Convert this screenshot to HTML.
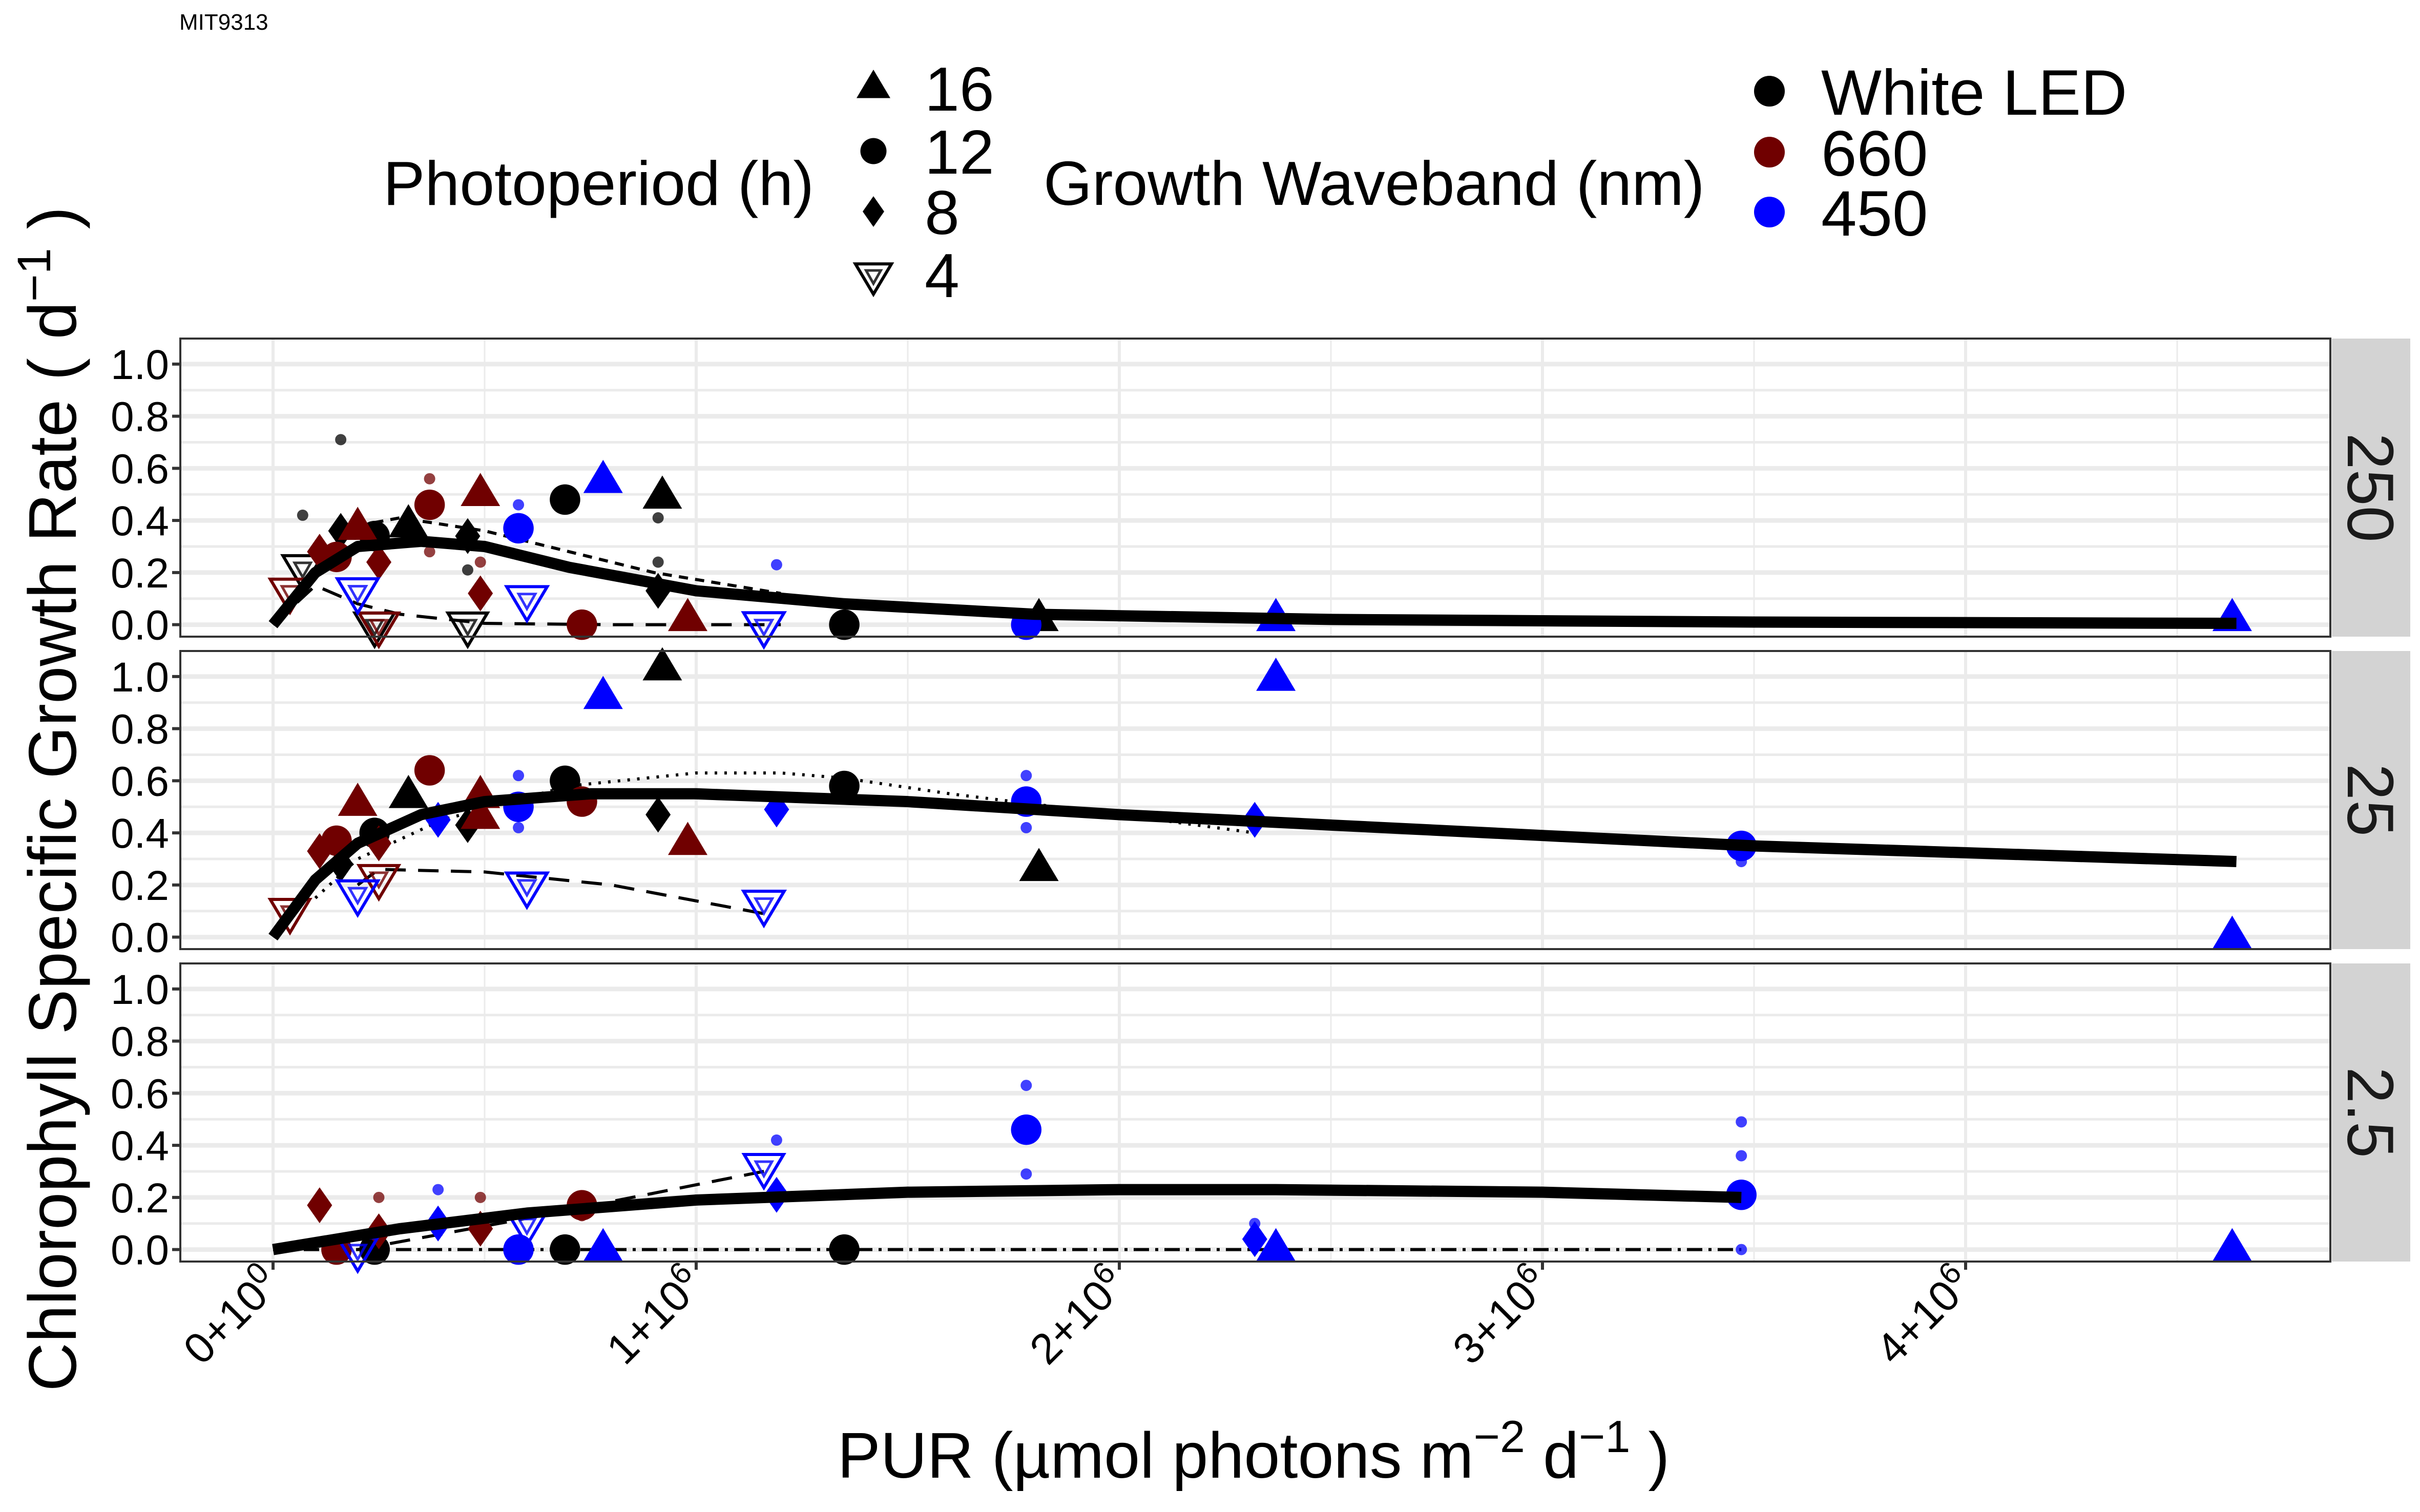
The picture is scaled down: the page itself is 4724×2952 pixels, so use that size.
<!DOCTYPE html>
<html><head><meta charset="utf-8">
<style>
html,body{margin:0;padding:0;background:#fff;}
svg{display:block;font-family:"Liberation Sans",sans-serif;}
</style></head>
<body>
<svg id="chart" width="4724" height="2952" viewBox="0 0 4724 2952" xmlns="http://www.w3.org/2000/svg">
<rect width="4724" height="2952" fill="#fff"/>
<text x="350" y="58" font-size="44">MIT9313</text>
<g id="legend">
  <text x="748" y="400" font-size="122">Photoperiod (h)</text>
  <text x="2037" y="400" font-size="122">Growth Waveband (nm)</text>
</g>
<g id="panels"></g>
<text transform="translate(148,1560) rotate(-90)" text-anchor="middle" font-size="132">Chlorophyll Specific Growth Rate   ( d<tspan dy="-50" font-size="92">−1</tspan><tspan dy="50"> )</tspan></text>
<text x="2447" y="2885" text-anchor="middle" font-size="126">PUR (µmol photons m<tspan dy="-50" font-size="88">−2</tspan><tspan dy="50"> d</tspan><tspan dy="-50" font-size="88">−1</tspan><tspan dy="50"> )</tspan></text>
</svg>
<script>
// ---- data ----
const panelNames = ["250","25","2.5"];
const xTickValues = [0,1,2,3,4];
const xTickMant = ["0","1","2","3","4"];
const xTickExp = ["0","6","6","6","6"];
const yTickValues = [0,0.2,0.4,0.6,0.8,1.0];
const yTickLabels = ["0.0","0.2","0.4","0.6","0.8","1.0"];
const photoLabels = ["16","12","8","4"];
const waveLabels = ["White LED","660","450"];
const waveColors = ["#000000","#700000","#0000ff"];
// points: [panel, x(1e6), y, shapeIndex, colorIndex]
const pointsPanel = [0,0,0,0,0,0,0,0,0,0,0,0,0,0,0,0,0,0,0,0,0,0,0,0,0,0,0,0,
 1,1,1,1,1,1,1,1,1,1,1,1,1,1,1,1,1,1,1,1,1,1,1,1,1,1,1,1,1,
 2,2,2,2,2,2,2,2,2,2,2,2,2,2,2,2,2,2,2,2];
const pointsX = [0.32,0.92,1.81,0.24,0.69,1.35,0.16,0.46,0.91,0.07,0.24,0.46,0.20,0.49,0.98,0.37,0.73,0.15,0.11,0.25,0.49,0.04,0.25,0.78,2.37,4.63,0.58,1.78,
 0.32,0.92,1.81,0.24,0.69,1.35,0.16,0.46,0.91,0.20,0.49,0.49,0.98,0.15,0.37,0.73,0.11,0.25,0.04,0.25,0.78,2.37,4.63,0.58,1.78,3.47,0.39,1.19,2.32,
 0.24,0.69,1.35,0.11,0.25,0.49,0.15,0.73,0.39,1.19,2.32,0.58,1.78,3.47,0.78,2.37,4.63,0.20,0.60,1.16];
const pointsY = [0.38,0.49,0.02,0.34,0.48,0.0,0.36,0.34,0.13,0.22,0.0,0.0,0.37,0.50,0.02,0.46,0.0,0.26,0.28,0.24,0.12,0.13,0.0,0.55,0.02,0.02,0.37,0.0,
 0.54,1.03,0.26,0.40,0.60,0.58,0.28,0.43,0.47,0.51,0.46,0.54,0.36,0.37,0.64,0.52,0.33,0.36,0.10,0.23,0.92,0.99,0.0,0.50,0.52,0.35,0.45,0.49,0.45,
 0.0,0.0,0.0,0.17,0.07,0.08,0.0,0.17,0.10,0.21,0.04,0.0,0.46,0.21,0.0,0.0,0.0,0.0,0.10,0.32];
const pointsShape = [0,0,0,1,1,1,2,2,2,3,3,3,0,0,0,1,1,1,2,2,2,3,3,0,0,0,1,1,
 0,0,0,1,1,1,2,2,2,0,0,0,0,1,1,1,2,2,3,3,0,0,0,1,1,1,2,2,2,
 1,1,1,2,2,2,1,1,2,2,2,1,1,1,0,0,0,3,3,3];
const pointsColor = [0,0,0,0,0,0,0,0,0,0,0,0,1,1,1,1,1,1,1,1,1,1,1,2,2,2,2,2,
 0,0,0,0,0,0,0,0,0,1,1,1,1,1,1,1,1,1,1,1,2,2,2,2,2,2,2,2,2,
 0,0,0,1,1,1,1,1,2,2,2,2,2,2,2,2,2,2,2,2];
const openBlueX = [0.20,0.60,1.16,0.20,0.60,1.16];
const openBlueY = [0.13,0.10,0.0,0.17,0.20,0.13];
const openBluePanel = [0,0,0,1,1,1];
const repX = [0.16,0.37,0.37,0.58,0.91,0.91,1.19,0.46,0.49,0.07,0.58,0.58,1.78,1.78,3.47,0.39,0.73,0.25,0.49,1.19,1.78,1.78,3.47,3.47,3.47,2.32];
const repY = [0.71,0.56,0.28,0.46,0.41,0.24,0.23,0.21,0.24,0.42,0.62,0.42,0.62,0.42,0.29,0.23,0.13,0.2,0.2,0.42,0.63,0.29,0.49,0.36,0.0,0.1];
const repPanel = [0,0,0,0,0,0,0,0,0,0,1,1,1,1,1,2,2,2,2,2,2,2,2,2,2,2];
const repColor = [0,1,1,2,0,0,2,0,1,0,2,2,2,2,2,2,1,1,1,2,2,2,2,2,2,2];
const solidX = [[0,0.1,0.2,0.35,0.5,0.7,1.0,1.35,1.8,2.5,3.5,4.64],[0,0.1,0.2,0.35,0.5,0.75,1.0,1.5,2.0,2.5,3.0,3.5,4.64],[0,0.3,0.6,1.0,1.5,2.0,2.37,3.0,3.47]];
const solidY = [[0,0.2,0.3,0.32,0.3,0.22,0.13,0.08,0.04,0.02,0.01,0.005],[0,0.22,0.36,0.47,0.52,0.55,0.55,0.52,0.47,0.43,0.39,0.35,0.29],[0,0.08,0.14,0.19,0.22,0.23,0.23,0.22,0.2]];
const shortDashX = [[0,0.1,0.2,0.3,0.5,0.7,0.9,1.2],[0,0.15,0.3,0.5,0.7],[]];
const shortDashY = [[0,0.22,0.38,0.41,0.36,0.28,0.2,0.12],[0,0.3,0.45,0.52,0.56],[]];
const dottedX = [[],[0.1,0.2,0.4,0.7,1.0,1.2,1.35,1.6,2.0,2.32],[]];
const dottedY = [[],[0.15,0.3,0.45,0.58,0.63,0.63,0.61,0.55,0.47,0.4],[]];
const longDashX = [[0,0.1,0.2,0.3,0.5,0.8,1.2],[0.2,0.25,0.5,0.8,1.16],[0.2,0.6,1.16]];
const longDashY = [[0,0.15,0.08,0.04,0.005,0,0],[0.2,0.26,0.25,0.2,0.09],[0,0.12,0.3]];
const dashDotX = [[],[],[0,3.47]];
const dashDotY = [[],[],[0,0]];

// ---- layout ----
const NS="http://www.w3.org/2000/svg";
const PL=352, PR=4549, SR=4705;
const panelTop=[661,1271,1881], PH=582;
const YMIN=-0.046, YMAX=1.098;
function sx(v){return 533+v*826;}
function sy(p,v){return panelTop[p]+PH-(v-YMIN)/(YMAX-YMIN)*PH;}
function mk(tag,attrs,parent){const e=document.createElementNS(NS,tag);for(const k in attrs)e.setAttribute(k,attrs[k]);parent.appendChild(e);return e;}
function shape(parent,s,x,y,r,color){
  let e;
  if(s===0){e=mk('polygon',{points:`${x},${y-r*1.2} ${x-r*1.1},${y+r*0.65} ${x+r*1.1},${y+r*0.65}`,fill:color},parent);}
  else if(s===1){e=mk('circle',{cx:x,cy:y,r:r*0.85,fill:color},parent);}
  else if(s===2){e=mk('polygon',{points:`${x},${y-r} ${x+r*0.7},${y} ${x},${y+r} ${x-r*0.7},${y}`,fill:color},parent);}
  else {e=mk('g',{},parent);
    mk('polygon',{points:`${x-r*1.1},${y-r*0.65} ${x+r*1.1},${y-r*0.65} ${x},${y+r*1.2}`,fill:'none',stroke:color,'stroke-width':6},e);
    mk('polygon',{points:`${x-r*0.45},${y-r*0.25} ${x+r*0.45},${y-r*0.25} ${x},${y+r*0.55}`,fill:'none',stroke:color,'stroke-width':5,opacity:0.8},e);}
  return e;
}
const panels=document.getElementById('panels');
for(let p=0;p<3;p++){
  const g=mk('g',{},panels);
  
  
  const T=panelTop[p];
  mk('rect',{x:PL,y:T,width:PR-PL,height:PH,fill:'#fff'},g);
  for(let i=0;i<yTickValues.length-1;i++){const v=(yTickValues[i]+yTickValues[i+1])/2;mk('line',{x1:PL,x2:PR,y1:sy(p,v),y2:sy(p,v),stroke:'#ebebeb','stroke-width':5},g);}
  for(let i=0;i<xTickValues.length;i++){const v=xTickValues[i]+0.5;if(sx(v)<PR)mk('line',{x1:sx(v),x2:sx(v),y1:T,y2:T+PH,stroke:'#ebebeb','stroke-width':3},g);}
  for(let i=0;i<yTickValues.length;i++){const y=sy(p,yTickValues[i]);mk('line',{x1:PL,x2:PR,y1:y,y2:y,stroke:'#ebebeb','stroke-width':9},g);
    mk('line',{x1:PL-16,x2:PL,y1:y,y2:y,stroke:'#333','stroke-width':6},g);
    const t=mk('text',{x:PL-22,y:y+29,'text-anchor':'end','font-size':82},g);t.textContent=yTickLabels[i];
    
    }
  for(let i=0;i<xTickValues.length;i++){const x=sx(xTickValues[i]);mk('line',{x1:x,x2:x,y1:T,y2:T+PH,stroke:'#ebebeb','stroke-width':6},g);}
  function line(xs,ys,dash,w,name){if(!xs.length)return;const pts=xs.map((v,i)=>sx(v)+','+sy(p,ys[i])).join(' ');
    const l=mk('polyline',{points:pts,fill:'none',stroke:'#000','stroke-width':w,'stroke-dasharray':dash,'stroke-linejoin':'round'},g);
    
    }
  line(shortDashX[p],shortDashY[p],'18,14',6,'fit-8h');
  line(dottedX[p],dottedY[p],'5,14',6,'fit-12h');
  line(longDashX[p],longDashY[p],'40,24',6,'fit-4h');
  line(dashDotX[p],dashDotY[p],'30,12,6,12',6,'fit-dashdot');
  for(let i=0;i<repX.length;i++){if(repPanel[i]!==p)continue;
    const c=mk('circle',{cx:sx(repX[i]),cy:sy(p,repY[i]),r:11,fill:waveColors[repColor[i]],opacity:0.75},g);
    
    }
  for(let i=0;i<pointsX.length;i++){if(pointsPanel[i]!==p)continue;
    const e=shape(g,pointsShape[i],sx(pointsX[i]),sy(p,pointsY[i]),35,waveColors[pointsColor[i]]);
    
    }
  for(let i=0;i<openBlueX.length;i++){if(openBluePanel[i]!==p)continue;
    const e=shape(g,3,sx(openBlueX[i]),sy(p,openBlueY[i]),36,'#0000ff');
    
    }
  line(solidX[p],solidY[p],'none',22,'mean-fit-line');
  mk('rect',{x:PL,y:T,width:PR-PL,height:PH,fill:'none',stroke:'#333','stroke-width':4},g);
  const s=mk('rect',{x:PR+3,y:T,width:SR-PR-3,height:PH,fill:'#d3d3d3'},g);
  
  
  const st=mk('text',{transform:`translate(${(PR+SR)/2-44},${T+PH/2}) rotate(90)`,'text-anchor':'middle','font-size':128,fill:'#1a1a1a'},g);
  st.textContent=panelNames[p];
  
  
}
const bottom=panelTop[2]+PH;
for(let i=0;i<xTickValues.length;i++){const x=sx(xTickValues[i]);
  mk('line',{x1:x,x2:x,y1:bottom,y2:bottom+16,stroke:'#333','stroke-width':6},panels);
  const t=mk('text',{transform:`translate(${x+18},${bottom+48}) rotate(-45)`,'text-anchor':'end','font-size':84},panels);
  
  
  t.innerHTML=`${xTickMant[i]}+10<tspan dy="-32" font-size="60">${xTickExp[i]}</tspan>`;
}
const leg=document.getElementById('legend');
const photoY=[172,295,413,536];
for(let i=0;i<4;i++){
  const e=shape(leg,i,1705,photoY[i],i===3?32:30,'#000');
  
  
  const t=mk('text',{x:1805,y:photoY[i]+44,'font-size':122},leg);t.textContent=photoLabels[i];
  
  
}
const waveY=[178,297,414];
for(let i=0;i<3;i++){
  const c=mk('circle',{cx:3454,cy:waveY[i],r:30,fill:waveColors[i]},leg);
  
  
  const t=mk('text',{x:3555,y:waveY[i]+46,'font-size':125},leg);t.textContent=waveLabels[i];
  
  
}
</script>
</body></html>
